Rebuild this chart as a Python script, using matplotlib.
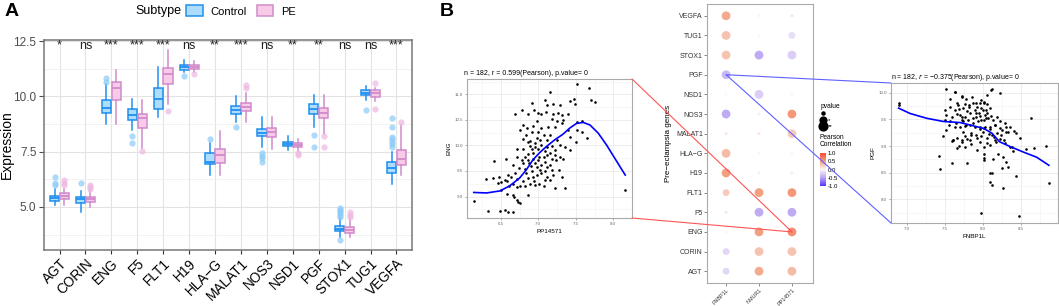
import numpy as np
import matplotlib
matplotlib.use('Agg')
import matplotlib.pyplot as plt
from matplotlib.patches import Patch, ConnectionPatch
from matplotlib.lines import Line2D
from matplotlib.colors import LinearSegmentedColormap
from matplotlib.ticker import AutoMinorLocator, FormatStrFormatter

plt.rcParams['font.family'] = ['Liberation Sans', 'DejaVu Sans']

# ---- Panel A: expression by subtype ----
genes = ['AGT', 'CORIN', 'ENG', 'F5', 'FLT1', 'H19', 'HLA-G', 'MALAT1',
         'NOS3', 'NSD1', 'PGF', 'STOX1', 'TUG1', 'VEGFA']
signif = ['*', 'ns', '***', '***', '***', 'ns', '**', '***', 'ns', '**', '**', 'ns', 'ns', '***']

ctrl_med = [5.39, 5.35, 9.49, 9.14, 9.90, 11.32, 7.04, 9.37, 8.35, 7.84, 9.45, 4.01, 10.17, 6.74]
ctrl_q1 = [5.27, 5.19, 9.25, 8.95, 9.45, 11.20, 6.94, 9.19, 8.20, 7.75, 9.19, 3.89, 10.05, 6.55]
ctrl_q3 = [5.51, 5.46, 9.82, 9.43, 10.39, 11.43, 7.42, 9.55, 8.54, 7.94, 9.64, 4.14, 10.30, 7.01]
ctrl_lo = [5.09, 4.79, 8.74, 8.47, 9.07, 11.10, 6.44, 8.84, 7.70, 7.57, 8.60, 3.64, 9.82, 6.02]
ctrl_hi = [5.80, 5.73, 10.57, 9.86, 11.35, 11.65, 7.90, 10.00, 9.07, 8.20, 10.04, 4.49, 10.45, 7.49]
ctrl_out = [[5.99, 6.09, 6.36], [6.07], [10.64, 10.82], [8.20, 7.90], [], [10.90], [8.09],
            [8.62], [7.45, 7.30, 7.20, 7.05], [], [8.27, 7.70],
            [3.48, 4.56, 4.65, 4.72, 4.80, 4.88, 4.95], [9.37],
            [7.70, 7.85, 7.95, 8.05, 8.15, 8.62, 9.00]]

pe_med = [5.50, 5.36, 10.37, 9.00, 10.99, 11.35, 7.34, 9.52, 8.41, 7.82, 9.25, 3.96, 10.14, 7.15]
pe_q1 = [5.35, 5.24, 9.82, 8.59, 10.57, 11.25, 6.97, 9.32, 8.14, 7.72, 9.00, 3.82, 9.97, 6.89]
pe_q3 = [5.62, 5.46, 10.64, 9.22, 11.29, 11.44, 7.61, 9.70, 8.59, 7.90, 9.49, 4.08, 10.27, 7.57]
pe_lo = [5.10, 5.00, 8.74, 7.65, 9.64, 11.10, 6.44, 8.84, 7.60, 7.55, 8.30, 3.65, 9.80, 6.44]
pe_hi = [5.80, 5.75, 11.20, 9.82, 12.10, 11.60, 8.42, 10.15, 9.07, 8.05, 10.04, 4.45, 10.40, 8.69]
pe_out = [[6.0, 6.1, 6.2], [5.8, 5.9, 6.0], [], [7.55], [9.32], [11.0], [], [10.4, 10.5], [],
          [7.35, 7.45], [8.2, 7.7], [4.55, 4.65, 4.75], [9.45, 10.6], [8.84]]

# ---- Panel B: correlation dot plot ----
targets = ['FNBP1L', 'NMUR1', 'PP14571']
corr = [[-0.20, 0.45, 0.35],   # AGT
        [-0.20, 0.30, 0.30],   # CORIN
        [0.00, 0.50, 0.599],   # ENG
        [0.10, -0.45, -0.45],  # F5
        [0.25, 0.50, 0.55],    # FLT1
        [0.50, -0.05, -0.05],  # H19
        [0.35, 0.02, 0.02],    # HLA-G
        [0.10, 0.10, 0.25],    # MALAT1
        [-0.45, 0.05, 0.55],   # NOS3
        [0.02, -0.25, 0.02],   # NSD1
        [-0.375, 0.02, 0.02],  # PGF
        [0.30, -0.45, -0.25],  # STOX1
        [0.30, 0.00, -0.15],   # TUG1
        [0.45, 0.02, 0.10]]    # VEGFA
# 0 = not significant, 1 = *, 2 = **
pcat = [[1, 2, 2], [1, 2, 2], [0, 2, 2], [0, 2, 2], [1, 2, 2], [2, 0, 0], [2, 0, 0],
        [0, 0, 2], [2, 0, 2], [0, 2, 0], [2, 0, 0], [2, 2, 2], [2, 0, 1], [2, 0, 0]]

# ---- scatter PP14571 vs ENG ----
pp14571 = [7.52, 7.68, 7.15, 6.91, 7.09, 7.11, 7.20, 7.29, 7.42, 7.47, 7.49, 7.70, 7.75,
           6.69, 6.78, 6.86, 6.94, 7.00, 7.04, 7.10, 7.20, 7.26, 7.31, 7.39, 7.18, 7.25, 7.33, 7.51, 7.58,
           6.75, 6.85, 6.93, 6.98, 7.04, 7.13, 7.22, 7.31, 7.40, 7.51, 7.58,
           6.79, 6.89, 6.98, 7.11, 7.15, 7.25, 7.42, 7.50, 7.65,
           6.71, 6.80, 6.89, 6.95, 7.03, 7.12, 7.18, 7.29, 7.35,
           6.86, 6.93, 7.01, 7.07, 7.15, 7.22, 7.29, 7.42,
           6.72, 6.78, 6.86, 6.93, 7.00, 7.09, 7.18, 7.24, 7.33, 6.41, 6.57,
           6.90, 6.98, 7.04, 7.11, 7.18, 7.27,
           6.66, 6.74, 6.82, 6.91, 6.98, 7.04, 7.11, 7.19, 7.31,
           6.31, 6.40, 6.48, 6.50, 6.58, 6.64, 6.71, 6.80, 6.86, 6.94, 7.01, 7.09, 7.16,
           6.46, 6.61, 6.66, 6.71, 6.75, 6.82, 6.89, 6.95, 7.07, 7.22, 7.35,
           6.50, 6.58, 6.66, 6.71, 6.75, 6.68, 6.73, 6.86,
           6.14, 6.33, 6.49, 6.55, 6.60, 6.66, 8.16,
           6.80, 6.84, 6.91, 7.00, 7.07, 6.86, 6.95, 7.02, 7.09, 7.22, 7.11, 7.00, 6.91,
           6.82, 6.80, 6.88, 6.95, 7.02, 7.09, 7.15, 6.93, 6.84, 6.69, 6.60, 6.55]
eng = [11.20, 11.12, 11.04, 10.84, 10.88, 10.79, 10.82, 10.79, 10.86, 10.91, 10.82, 10.88, 10.85,
       10.62, 10.69, 10.61, 10.69, 10.64, 10.61, 10.66, 10.62, 10.63, 10.60, 10.62, 10.51, 10.47, 10.50, 10.45, 10.48,
       10.30, 10.34, 10.38, 10.48, 10.34, 10.37, 10.37, 10.43, 10.30, 10.30, 10.27,
       10.13, 10.09, 10.14, 10.11, 10.21, 10.11, 10.17, 10.06, 10.15,
       9.93, 9.94, 9.98, 9.96, 10.00, 9.96, 9.98, 10.01, 9.96,
       9.83, 9.86, 9.78, 9.77, 9.86, 9.81, 9.78, 9.91,
       9.77, 9.72, 9.72, 9.74, 9.72, 9.68, 9.73, 9.72, 9.73, 9.70, 9.74,
       9.60, 9.57, 9.61, 9.57, 9.52, 9.51,
       9.62, 9.55, 9.53, 9.49, 9.42, 9.46, 9.39, 9.42, 9.38,
       9.34, 9.36, 9.38, 9.29, 9.31, 9.39, 9.34, 9.31, 9.36, 9.31, 9.25, 9.33, 9.33,
       9.26, 9.21, 9.25, 9.18, 9.20, 9.21, 9.25, 9.23, 9.20, 9.16, 9.16,
       9.13, 9.05, 9.03, 8.93, 8.87, 8.99, 8.90, 9.03,
       8.92, 8.71, 8.71, 8.73, 8.69, 8.69, 9.13,
       10.40, 10.21, 10.27, 10.27, 10.21, 10.07, 10.04, 10.11, 9.90, 9.91, 9.81, 9.93, 9.93,
       9.78, 9.65, 9.66, 9.65, 9.52, 9.49, 9.62, 9.38, 9.46, 9.47, 9.42, 9.33]
eng_fit_x = [6.14, 6.31, 6.49, 6.62, 6.75, 6.84, 6.93, 7.02, 7.11, 7.22, 7.33, 7.42, 7.51, 7.60,
             7.69, 7.80, 7.91, 8.02, 8.16]
eng_fit_y = [9.08, 9.07, 9.11, 9.21, 9.36, 9.52, 9.72, 9.86, 9.98, 10.11, 10.22, 10.34, 10.43,
             10.45, 10.40, 10.24, 10.01, 9.75, 9.42]

# ---- scatter FNBP1L vs PGF ----
fnbp1l = [6.89, 6.89, 7.42, 7.43, 7.60, 7.52, 7.63, 7.50, 7.57, 7.66, 7.72, 7.77, 7.68, 7.52, 7.59, 7.66,
          7.72, 7.79, 7.82, 7.87, 7.92, 7.96, 8.01, 8.05, 7.98, 8.04, 8.09, 7.91, 7.96, 8.03, 8.12, 8.22,
          7.74, 7.81, 7.87, 7.94, 8.01, 8.07, 8.13, 8.18, 7.50, 7.56, 7.63, 7.70, 7.77, 7.83, 7.90, 7.96,
          8.03, 8.09, 8.16, 8.22, 8.29, 8.36, 8.41, 8.44, 8.49,
          8.31, 8.25, 8.18, 8.12, 8.05, 7.98, 7.92, 7.85, 7.79, 7.72, 7.66, 7.59, 7.52, 7.48,
          7.68, 7.77, 7.85, 7.92, 8.01, 8.09, 8.16, 8.22, 8.29, 8.36, 8.40, 7.66, 7.77, 7.61,
          8.01, 8.01, 8.01, 8.14, 8.20, 8.27, 8.31, 8.25, 8.12, 8.09, 8.09, 8.12, 8.27, 8.44, 7.97, 8.47,
          8.64, 8.57, 8.68, 8.83, 8.87, 7.79, 8.33,
          7.63, 7.72, 7.78, 7.86, 7.91, 7.97, 8.02, 8.05, 8.11, 7.57, 7.63, 7.67, 7.74, 7.82, 7.89,
          7.95, 8.00, 8.06, 7.70, 7.76, 7.83, 7.91, 7.98, 8.04, 8.11, 7.57, 7.65, 7.72, 7.78, 7.87,
          7.96, 8.02, 8.10, 8.16, 8.22, 8.30, 7.74, 7.85, 7.91, 8.00, 8.08, 8.15, 8.24, 8.33,
          7.61, 7.72, 7.83, 7.96, 8.06, 8.17, 8.28, 8.39]
pgf = [9.81, 9.77, 8.81, 8.57, 8.68, 10.06, 10.02, 9.68, 9.88, 9.80, 9.91, 9.78, 9.69, 9.58, 9.55, 9.60,
       9.55, 9.66, 9.77, 9.81, 9.74, 9.80, 9.83, 9.79, 9.71, 9.68, 9.71, 9.61, 9.56, 9.58, 10.06, 9.99,
       9.46, 9.49, 9.52, 9.46, 9.49, 9.52, 9.48, 9.55, 9.49, 9.39, 9.36, 9.35, 9.38, 9.39, 9.35, 9.31,
       9.36, 9.31, 9.39, 9.46, 9.44, 9.36, 9.29, 9.24, 9.16,
       9.27, 9.30, 9.24, 9.21, 9.16, 9.19, 9.16, 9.21, 9.14, 9.11, 9.16, 9.10, 9.30, 9.18,
       9.00, 8.99, 9.04, 8.93, 8.99, 9.02, 9.11, 9.13, 9.06, 8.99, 8.91, 8.96, 9.19, 9.11,
       8.85, 8.77, 8.74, 8.75, 8.86, 8.80, 8.71, 8.58, 8.50, 8.49, 8.33, 8.27, 8.22, 8.44, 7.74, 7.69,
       9.52, 8.94, 8.96, 9.01, 8.31, 8.68, 8.61,
       10.01, 9.94, 9.88, 9.92, 9.81, 9.86, 9.80, 9.96, 10.05, 9.74, 9.68, 9.77, 9.71, 9.74, 9.68,
       9.62, 9.68, 9.62, 9.58, 9.55, 9.61, 9.54, 9.49, 9.52, 9.56, 9.46, 9.43, 9.49, 9.39, 9.43,
       9.36, 9.33, 9.36, 9.39, 9.33, 9.36, 9.27, 9.24, 9.21, 9.27, 9.23, 9.17, 9.21, 9.27,
       9.11, 9.08, 9.11, 9.08, 9.05, 9.08, 9.11, 8.99]
pgf_fit_x = [6.89, 7.04, 7.26, 7.48, 7.70, 7.87, 8.01, 8.12, 8.22, 8.36, 8.53, 8.71, 8.87]
pgf_fit_y = [9.71, 9.61, 9.52, 9.46, 9.44, 9.38, 9.33, 9.24, 9.08, 8.99, 8.89, 8.79, 8.64]

W, H = 1059, 306
fig = plt.figure(figsize=(W / 100, H / 100), dpi=100)


def px_axes(x0, y0, x1, y1):
    # pixel box (from top-left) -> figure axes
    return fig.add_axes([x0 / W, 1 - y1 / H, (x1 - x0) / W, (y1 - y0) / H])


ctrl_edge, ctrl_face, ctrl_fl = '#1F8FEF', '#AEDCFB', '#8CCBF7'
pe_edge, pe_face, pe_fl = '#D18ACB', '#F7CBE7', '#EDB8E0'

axA = px_axes(44, 40, 412, 250)
x = np.arange(len(genes))
for med, q1, q3, lo, hi, out, off, ec, fc, flc in [
        (ctrl_med, ctrl_q1, ctrl_q3, ctrl_lo, ctrl_hi, ctrl_out, -0.19, ctrl_edge, ctrl_face, ctrl_fl),
        (pe_med, pe_q1, pe_q3, pe_lo, pe_hi, pe_out, 0.19, pe_edge, pe_face, pe_fl)]:
    stats = [dict(med=m, q1=a, q3=b, whislo=l, whishi=h, fliers=f)
             for m, a, b, l, h, f in zip(med, q1, q3, lo, hi, out)]
    axA.bxp(stats, positions=x + off, widths=0.36, patch_artist=True, showcaps=False,
            boxprops=dict(facecolor=fc, edgecolor=ec, linewidth=1.1),
            medianprops=dict(color=ec, linewidth=1.3),
            whiskerprops=dict(color=ec, linewidth=1.1),
            flierprops=dict(marker='o', markerfacecolor=flc, markeredgecolor='none',
                            markersize=4.5, alpha=0.7))
for i, s in enumerate(signif):
    axA.text(i, 12.3, s, ha='center', va='center', fontsize=9, color='#222222')
axA.set_xlim(-0.6, 13.6)
axA.set_ylim(3.05, 12.55)
axA.set_xticks(x)
axA.set_xticklabels([g.replace('-', '\u2212') for g in genes], rotation=45, ha='right',
                    rotation_mode='anchor', fontsize=9.8)
axA.set_yticks([5.0, 7.5, 10.0, 12.5])
axA.yaxis.set_major_formatter(FormatStrFormatter('%.1f'))
axA.yaxis.set_minor_locator(AutoMinorLocator(2))
axA.tick_params(axis='y', labelsize=8.5, colors='#4D4D4D', labelcolor='#4D4D4D', pad=2)
axA.tick_params(axis='x', colors='#333333', labelcolor='black', length=3, pad=1.5)
axA.tick_params(which='minor', length=0)
axA.grid(True, which='major', color='#E3E3E3', lw=0.8)
axA.grid(True, which='minor', axis='y', color='#F0F0F0', lw=0.6)
axA.set_axisbelow(True)
for sp in axA.spines.values():
    sp.set_color('#777777')
    sp.set_linewidth(1.1)
axA.set_ylabel('Expression', fontsize=10)
axA.yaxis.set_label_coords(-0.082, 0.5)

fig.text(5 / W, 1 - 12 / H, 'A', fontsize=14, fontweight='bold', va='center')
fig.text(440 / W, 1 - 12 / H, 'B', fontsize=14, fontweight='bold', va='center')
fig.text(135 / W, 1 - 11 / H, 'Subtype', fontsize=9, va='center')
fig.legend(handles=[Patch(facecolor=ctrl_face, edgecolor=ctrl_edge, lw=1.1),
                    Patch(facecolor=pe_face, edgecolor=pe_edge, lw=1.1)],
           labels=['Control', 'PE'], ncol=2, loc='center left',
           bbox_to_anchor=(186 / W, 1 - 11 / H), frameon=False, fontsize=8,
           handlelength=1.5, handleheight=1.1, columnspacing=0.9, handletextpad=0.7,
           borderpad=0, borderaxespad=0)


def style_scatter(ax):
    ax.xaxis.set_minor_locator(AutoMinorLocator(2))
    ax.yaxis.set_minor_locator(AutoMinorLocator(2))
    ax.grid(True, which='major', color='#E6E6E6', lw=0.5)
    ax.grid(True, which='minor', color='#F2F2F2', lw=0.4)
    ax.set_axisbelow(True)
    ax.xaxis.set_major_formatter(FormatStrFormatter('%.1f'))
    ax.yaxis.set_major_formatter(FormatStrFormatter('%.1f'))
    ax.tick_params(labelsize=3.2, colors='#666666', length=1.5, width=0.4, pad=1.2)
    ax.tick_params(which='minor', length=0)
    for sp in ax.spines.values():
        sp.set_color('#AAAAAA')
        sp.set_linewidth(0.8)


axL = px_axes(467, 79, 632, 218)
axL.scatter(pp14571, eng, s=3.5, color='black', linewidths=0)
axL.plot(eng_fit_x, eng_fit_y, color='#0000FF', lw=1.2)
axL.set_xlim(6.05, 8.25)
axL.set_ylim(8.58, 11.3)
axL.set_xticks([6.5, 7.0, 7.5, 8.0])
axL.set_yticks([9.0, 9.5, 10.0, 10.5, 11.0])
style_scatter(axL)
axL.set_xlabel('PP14571', fontsize=4.5, labelpad=2)
axL.set_ylabel('ENG', fontsize=4.5, labelpad=2)
axL.set_title('n = 182, r = 0.599(Pearson), p.value= 0', loc='left', fontsize=5, pad=3,
              x=-0.02)

axR = px_axes(891, 83, 1058, 223)
axR.scatter(fnbp1l, pgf, s=3.5, color='black', linewidths=0)
axR.plot(pgf_fit_x, pgf_fit_y, color='#0000FF', lw=1.2)
axR.set_xlim(6.79, 8.99)
axR.set_ylim(7.56, 10.18)
axR.set_xticks([7.0, 7.5, 8.0, 8.5])
axR.set_yticks([8.0, 8.5, 9.0, 9.5, 10.0])
style_scatter(axR)
axR.set_xlabel('FNBP1L', fontsize=4.5, labelpad=2)
axR.set_ylabel('PGF', fontsize=4.5, labelpad=2)
axR.set_title('n = 182, $r$ = \u22120.375(Pearson), p.value= 0', loc='left', fontsize=5, pad=3)

# dot plot
axD = px_axes(707, 4, 813, 283)
cmap = LinearSegmentedColormap.from_list(
    'pc', [(0.0, '#2A00FF'), (0.25, '#A88CF0'), (0.5, '#FBF7F7'), (0.75, '#EF8A62'), (1.0, '#FF1A00')])
corr_a = np.array(corr)
col_i, row_i = np.meshgrid(np.arange(len(targets)), np.arange(len(genes)))
size_map = np.array([5, 24, 40])
sc = axD.scatter(col_i.ravel(), row_i.ravel(), s=size_map[np.array(pcat).ravel()],
                 c=corr_a.ravel(), cmap=cmap, vmin=-1, vmax=1, alpha=0.8, linewidths=0)
axD.set_xlim(-0.58, 2.64)
axD.set_ylim(-0.6, 13.6)
axD.set_xticks(range(len(targets)))
axD.set_xticklabels(targets, rotation=45, ha='right', rotation_mode='anchor', fontsize=3.9)
axD.set_yticks(range(len(genes)))
axD.set_yticklabels([g.replace('-', '\u2212') for g in genes], fontsize=5)
axD.tick_params(length=2, width=0.4, colors='#333333', pad=1)
for sp in axD.spines.values():
    sp.set_color('#AAAAAA')
    sp.set_linewidth(0.8)
axD.set_ylabel('Pre\u2212eclampsia genes', fontsize=5.8, labelpad=3)

# legends of dot plot
hs = [Line2D([], [], ls='none', marker='o', color='black', markersize=np.sqrt(s))
      for s in size_map]
fig.legend(hs, ['', '*', '**'], title='pvalue', loc='upper left',
           bbox_to_anchor=(817 / W, 1 - 100 / H), frameon=False, fontsize=4.5,
           title_fontsize=4.8, handletextpad=0.2, labelspacing=0.15, borderpad=0,
           handlelength=1.0, alignment='left')
fig.text(820 / W, 1 - 141 / H, 'Pearson\nCorrelation', fontsize=4.8, va='center',
         linespacing=1.0)
cax = px_axes(820, 153, 826, 186)
cb = fig.colorbar(sc, cax=cax, ticks=[-1, -0.5, 0, 0.5, 1])
cb.outline.set_visible(False)
cb.ax.tick_params(labelsize=4.3, length=0, pad=1)
cb.ax.yaxis.set_major_formatter(FormatStrFormatter('%.1f'))

# connectors
eng_i, pgf_i = genes.index('ENG'), genes.index('PGF')
for yA in (1, 0):
    fig.add_artist(ConnectionPatch(xyA=(1, yA), coordsA='axes fraction', axesA=axL,
                                   xyB=(2, eng_i), coordsB='data', axesB=axD,
                                   color='#FF5555', lw=0.8))
    fig.add_artist(ConnectionPatch(xyA=(0, pgf_i), coordsA='data', axesA=axD,
                                   xyB=(0, yA), coordsB='axes fraction', axesB=axR,
                                   color='#6060FF', lw=0.8))

fig.savefig('out.png', dpi=100)
